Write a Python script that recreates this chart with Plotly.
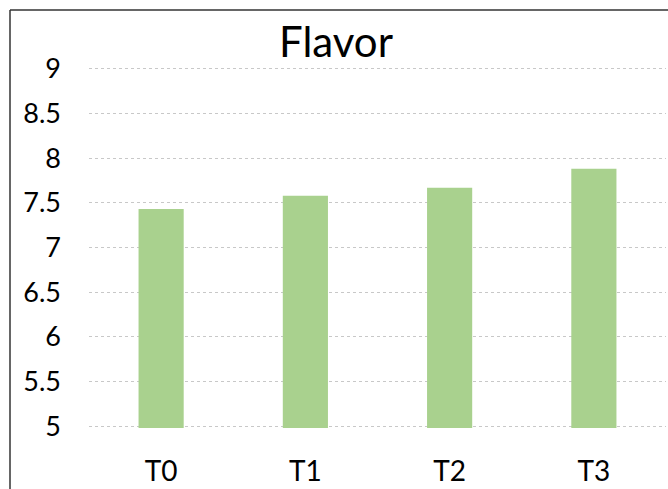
import plotly.graph_objects as go

categories = ["T0", "T1", "T2", "T3"]
flavor = [7.43, 7.58, 7.67, 7.88]
y_ticks = [5, 5.5, 6, 6.5, 7, 7.5, 8, 8.5, 9]
y_labels = ["5", "5.5", "6", "6.5", "7", "7.5", "8", "8.5", "9"]

W, H = 668, 489
L, R, T, B = 89, 2, 67, 61
pw, ph = W - L - R, H - T - B

fig = go.Figure(go.Bar(x=categories, y=flavor, marker=dict(color="#A9D18E", line=dict(width=0))))

fig.update_layout(
    width=W, height=H,
    margin=dict(l=L, r=R, t=T, b=B, pad=0),
    paper_bgcolor="white", plot_bgcolor="white",
    bargap=0.687,
    showlegend=False,
    font=dict(family="Lato, sans-serif", color="#000000"),
    title=dict(text="Flavor", x=336 / W, xanchor="center", y=1 - 42 / H, yanchor="middle",
               yref="container", font=dict(size=42, family="Lato, sans-serif", color="#000000")),
)
fig.update_yaxes(range=[4.98, 9.02], tickvals=y_ticks, ticktext=y_labels, showgrid=True,
                 gridcolor="#c8c8c8", griddash="dot", gridwidth=1, zeroline=False, showline=False,
                 ticks="", ticklabelstandoff=27, tickfont=dict(size=27, color="#000000"))
fig.update_xaxes(showgrid=False, showline=False, zeroline=False, ticks="", ticklabelstandoff=24,
                 tickfont=dict(size=28, color="#000000"))

# chart border (left and top edges visible)
x_left = (10 - L) / pw
y_top = (H - B - 10) / ph
y_bot = (H - B - H - 5) / ph
fig.add_shape(type="line", xref="paper", yref="paper", x0=x_left, x1=x_left, y0=y_bot, y1=y_top,
              line=dict(color="#333333", width=1.5))
fig.add_shape(type="line", xref="paper", yref="paper", x0=x_left, x1=(W + 5 - L) / pw, y0=y_top, y1=y_top,
              line=dict(color="#333333", width=1.5))

fig.write_html("out.html")
